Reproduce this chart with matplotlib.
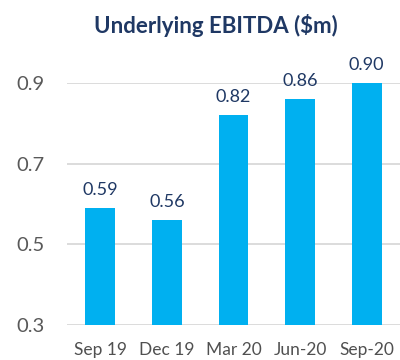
import matplotlib
matplotlib.use("Agg")
import matplotlib.pyplot as plt

# quarterly underlying EBITDA, $m
periods = ["Sep 19", "Dec 19", "Mar 20", "Jun-20", "Sep-20"]
ebitda = [0.59, 0.56, 0.82, 0.86, 0.90]
yticks = [0.3, 0.5, 0.7, 0.9]

plt.rcParams['font.family'] = ['Lato', 'DejaVu Sans']

fig = plt.figure(figsize=(4, 3.6), dpi=100)
ax = fig.add_axes([0.1675, 0.097, 0.8325, 0.672])

x = range(len(periods))
bars = ax.bar(x, ebitda, width=0.45, color="#00B0F0", zorder=3)

for b, v in zip(bars, ebitda):
    ax.text(b.get_x() + b.get_width() / 2, v + 0.025, f"{v:.2f}",
            ha="center", va="bottom", fontsize=13, color="#1F3864", clip_on=False)

ax.set_xlim(-0.5, len(periods) - 0.5)
ax.set_ylim(0.3, 0.9)
ax.set_yticks(yticks)
ax.set_yticklabels([f"{t:.1f}" for t in yticks], fontsize=14.5, color="#595959")
ax.set_xticks(list(x))
ax.set_xticklabels(periods, fontsize=12.5, color="#505050")
ax.yaxis.grid(True, color="#D9D9D9", linewidth=1.3, zorder=0)
ax.tick_params(axis="y", length=0, pad=16)
ax.tick_params(axis="x", length=0, pad=12)
for s in ax.spines.values():
    s.set_visible(False)

fig.text(0.54, 0.93, "Underlying EBITDA ($m)", ha="center", va="center",
         fontsize=16, fontweight="bold", color="#1F3864")

fig.savefig("out.png", dpi=100)
